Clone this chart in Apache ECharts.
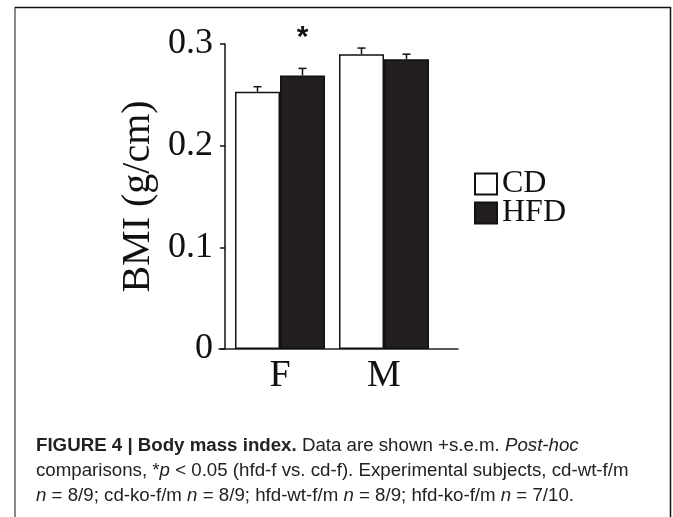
<!DOCTYPE html>
<html>
<head>
<meta charset="utf-8">
<script src="https://cdn.jsdelivr.net/npm/echarts@6/dist/echarts.min.js"></script>
<style>html,body{margin:0;padding:0;background:#fff}#c{width:673px;height:517px}</style>
</head>
<body>
<div id="c"></div>
<script>
const categories = ['F', 'M'];
const cdValues = [0.253, 0.290];
const cdSem = [0.005, 0.006];
const hfdValues = [0.269, 0.285];
const hfdSem = [0.007, 0.005];
const significance = ['*', ''];
const yTicks = [0, 0.1, 0.2, 0.3];

const BAR_W = 45;
const SERIF = '"Liberation Serif", "DejaVu Serif", serif';
const SANS = '"Liberation Sans", Arial, sans-serif';

const errData = [];
categories.forEach((c, i) => {
  errData.push([i, cdValues[i], cdSem[i], -1, '']);
  errData.push([i, hfdValues[i], hfdSem[i], 1, significance[i]]);
});

function renderErr(params, api) {
  const idx = api.value(0);
  const v = api.value(1);
  const e = api.value(2);
  const side = api.value(3);
  const star = errData[params.dataIndex][4];
  const p0 = api.coord([idx, v]);
  const p1 = api.coord([idx, v + e]);
  const x = p0[0] + side * BAR_W / 2;
  const children = [
    {type: 'line', shape: {x1: x, y1: p0[1], x2: x, y2: p1[1]}, style: {stroke: '#111', lineWidth: 1.5}},
    {type: 'line', shape: {x1: x - 4, y1: p1[1], x2: x + 4, y2: p1[1]}, style: {stroke: '#111', lineWidth: 1.5}}
  ];
  if (star) {
    children.push({type: 'text', style: {text: star, x: x, y: p1[1] - 31, align: 'center', verticalAlign: 'middle', font: 'bold 30px ' + SANS, fill: '#111'}});
  }
  return {type: 'group', children: children};
}

const chart = echarts.init(document.getElementById('c'), null, {renderer: 'canvas'});
chart.setOption({
  animation: false,
  backgroundColor: '#fff',
  title: {
    left: 31, top: 428,
    text: '{b|FIGURE 4 | Body mass index.} Data are shown +s.e.m. {i|Post-hoc}\n' +
          'comparisons, *{i|p} < 0.05 (hfd-f vs. cd-f). Experimental subjects, cd-wt-f/m\n' +
          '{i|n} = 8/9; cd-ko-f/m {i|n} = 8/9; hfd-wt-f/m {i|n} = 8/9; hfd-ko-f/m {i|n} = 7/10.',
    textStyle: {
      fontFamily: SANS, fontSize: 18.7, fontWeight: 'normal', color: '#222', lineHeight: 25,
      rich: {
        b: {fontFamily: SANS, fontSize: 18.7, fontWeight: 'bold', color: '#222', lineHeight: 25},
        i: {fontFamily: SANS, fontSize: 18.7, fontStyle: 'italic', color: '#222', lineHeight: 25}
      }
    }
  },
  legend: {
    data: ['CD', 'HFD'],
    orient: 'vertical',
    left: 469, top: 163,
    itemWidth: 22, itemHeight: 21, itemGap: -3,
    icon: 'rect',
    textStyle: {fontFamily: SERIF, fontSize: 32, color: '#111', lineHeight: 21}
  },
  grid: [
    {left: 228, width: 208, top: 44, bottom: 168},
    {left: 219, width: 239, top: 44, bottom: 168}
  ],
  xAxis: [
    {
      type: 'category', data: categories, gridIndex: 0,
      axisLine: {show: false}, axisTick: {show: false},
      axisLabel: {fontFamily: SERIF, fontSize: 38, color: '#111', margin: 8}
    },
    {
      type: 'value', gridIndex: 1, min: 0, max: 1,
      axisLine: {show: true, lineStyle: {color: '#222', width: 1.5}},
      axisTick: {show: false}, axisLabel: {show: false}, splitLine: {show: false}
    }
  ],
  yAxis: [
    {
      type: 'value', gridIndex: 0, min: yTicks[0], max: yTicks[yTicks.length - 1], interval: 0.1,
      offset: 3,
      name: 'BMI (g/cm)', nameLocation: 'middle', nameGap: 67,
      nameTextStyle: {fontFamily: SERIF, fontSize: 40, color: '#111'},
      axisLine: {show: true, lineStyle: {color: '#111', width: 1.5}},
      axisTick: {show: true, length: 5, lineStyle: {color: '#111', width: 1.5}},
      axisLabel: {fontFamily: SERIF, fontSize: 36, color: '#111', margin: 12},
      splitLine: {show: false}
    },
    {type: 'value', gridIndex: 1, min: 0, max: 1, show: false}
  ],
  series: [
    {
      name: 'CD', type: 'bar', data: cdValues, barWidth: BAR_W, barGap: '0%',
      itemStyle: {color: '#ffffff', borderColor: '#111', borderWidth: 1.5}
    },
    {
      name: 'HFD', type: 'bar', data: hfdValues, barWidth: BAR_W, barGap: '0%',
      itemStyle: {color: '#231f20', borderColor: '#111', borderWidth: 1.5}
    },
    {
      type: 'custom', renderItem: renderErr, data: errData, z: 5,
      encode: {x: 0, y: 1}
    }
  ],
  graphic: [
    {type: 'rect', shape: {x: 14, y: 7, width: 2, height: 520}, style: {fill: '#8a8a8a'}, silent: true},
    {type: 'line', shape: {x1: 15, y1: 7.5, x2: 671, y2: 7.5}, style: {stroke: '#111', lineWidth: 1.5}, silent: true},
    {type: 'line', shape: {x1: 670.5, y1: 7, x2: 670.5, y2: 520}, style: {stroke: '#111', lineWidth: 1.5}, silent: true}
  ]
});
</script>
</body>
</html>
